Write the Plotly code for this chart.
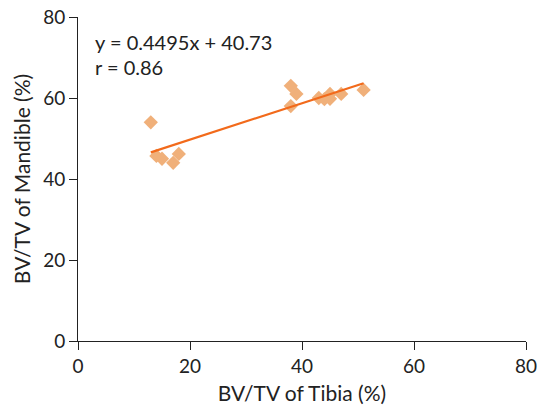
import plotly.graph_objects as go

tibia = [13, 14, 15, 17, 18, 38, 39, 38, 43, 44, 45, 45, 47, 51]
mandible = [54, 45.7, 45, 44, 46.2, 63, 61, 58, 60, 59.7, 61, 59.8, 61, 62]
slope = 0.4495
intercept = 40.73
fit_x = [min(tibia), max(tibia)]
fit_y = [slope * v + intercept for v in fit_x]

font = "Lato, Open Sans, sans-serif"
fig = go.Figure()
fig.add_trace(go.Scatter(x=tibia, y=mandible, mode="markers",
                         marker=dict(symbol="diamond", size=11, color="#F0B07A"),
                         showlegend=False))
fig.add_trace(go.Scatter(x=fit_x, y=fit_y, mode="lines",
                         line=dict(color="#F26A1B", width=2.2), showlegend=False))
fig.add_annotation(x=0.033, y=0.922, xref="paper", yref="paper", xanchor="left", yanchor="middle",
                   text="y = 0.4495x + 40.73", showarrow=False, font=dict(size=20, color="#222", family=font))
fig.add_annotation(x=0.033, y=0.846, xref="paper", yref="paper", xanchor="left", yanchor="middle",
                   text="r = 0.86", showarrow=False, font=dict(size=20, color="#222", family=font))
fig.update_layout(
    width=537, height=408, margin=dict(l=78, r=11, t=17, b=67),
    plot_bgcolor="white", paper_bgcolor="white",
    font=dict(family=font, size=17.5, color="#222"),
    xaxis=dict(range=[0, 80], tickvals=[0, 20, 40, 60, 80], showgrid=False, zeroline=False,
               showline=True, linecolor="#222", linewidth=1, ticks="outside", ticklen=8,
               tickcolor="#222", tickfont=dict(size=19, family=font), automargin=False,
               ticklabeloverflow="allow",
               title=dict(text="BV/TV of Tibia (%)", standoff=10)),
    yaxis=dict(range=[0, 80], tickvals=[0, 20, 40, 60, 80], showgrid=False, zeroline=False,
               showline=True, linecolor="#222", linewidth=1, ticks="outside", ticklen=8,
               tickcolor="#222", tickfont=dict(size=19, family=font), automargin=False,
               ticklabeloverflow="allow",
               title=dict(text="BV/TV of Mandible (%)", standoff=6)),
)
fig.write_html("out.html", config={"displayModeBar": False},
               post_script="document.body.style.margin='0px';document.body.style.overflow='hidden';")
